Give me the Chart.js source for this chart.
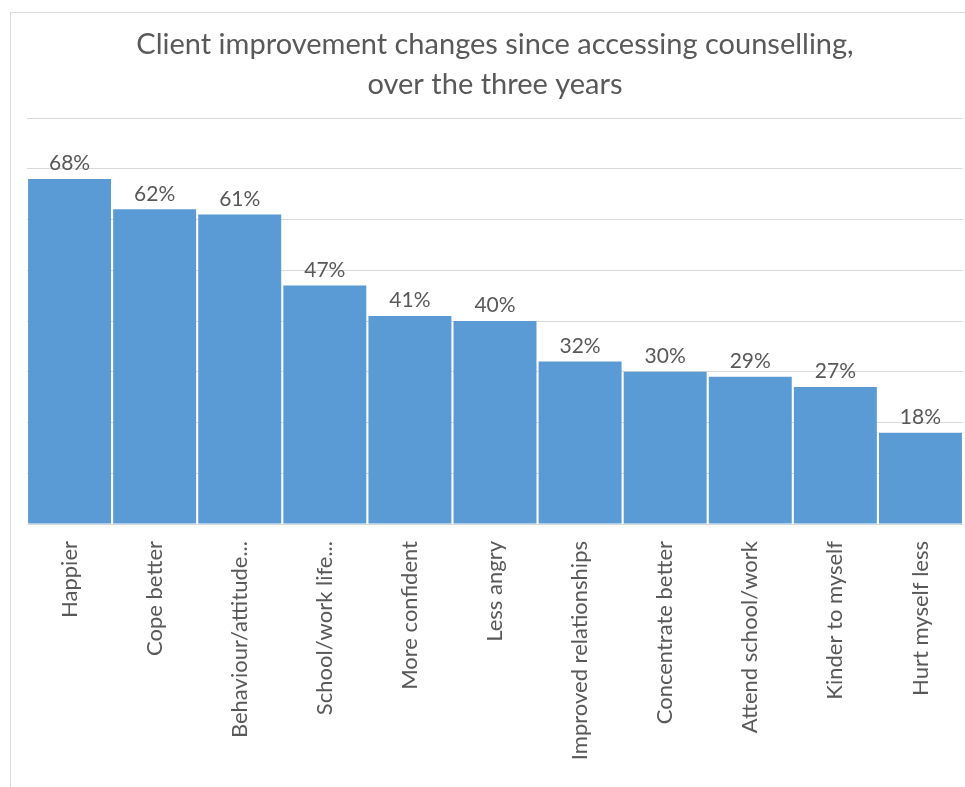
<!DOCTYPE html>
<html lang="en">
<head>
  <meta charset="UTF-8">
  <title>Client improvement changes</title>
  <script src="https://cdn.jsdelivr.net/npm/chart.js"></script>
  <style>
    html, body {
      margin: 0;
      padding: 0;
      background: #ffffff;
      overflow: hidden;
    }
    #wrap {
      position: relative;
      width: 965px;
      height: 787px;
    }
    #frame {
      position: absolute;
      left: 10px;
      top: 12px;
      width: 970px;
      height: 800px;
      border-left: 1px solid #d9d9d9;
      border-top: 1px solid #d9d9d9;
      pointer-events: none;
    }
  </style>
</head>
<body>
  <div id="wrap">
    <canvas id="myChart" width="965" height="787"></canvas>
    <div id="frame"></div>
  </div>

  <script>
    // data
    const categories = ['Happier', 'Cope better', 'Behaviour/attitude...', 'School/work life...',
      'More confident', 'Less angry', 'Improved relationships', 'Concentrate better',
      'Attend school/work', 'Kinder to myself', 'Hurt myself less'];
    const percentages = [68, 62, 61, 47, 41, 40, 32, 30, 29, 27, 18];
    const titleLines = ['Client improvement changes since accessing counselling,', 'over the three years'];

    const textColor = '#595959';

    // draws the "68%" labels over each bar
    const barLabels = {
      id: 'barLabels',
      afterDatasetsDraw(chart) {
        const c = chart.ctx;
        const meta = chart.getDatasetMeta(0);
        c.save();
        c.font = '21px Lato';
        c.fillStyle = textColor;
        c.textAlign = 'center';
        c.textBaseline = 'bottom';
        meta.data.forEach((bar, i) => {
          c.fillText(percentages[i] + '%', bar.x, bar.y - 5);
        });
        c.restore();
      }
    };

    const ctx = document.getElementById('myChart').getContext('2d');
    const myChart = new Chart(ctx, {
      type: 'bar',
      data: {
        labels: categories,
        datasets: [{
          data: percentages,
          backgroundColor: '#5b9bd5',
          borderWidth: 0,
          barPercentage: 0.975,
          categoryPercentage: 1
        }]
      },
      options: {
        responsive: false,
        animation: false,
        layout: { padding: { left: 27, right: 2, top: 0, bottom: 0 } },
        plugins: {
          legend: { display: false },
          tooltip: { enabled: false },
          title: {
            display: true,
            text: titleLines,
            color: textColor,
            font: { family: 'Lato', size: 29, weight: 'normal', lineHeight: '40px' },
            padding: { top: 25, bottom: 13 }
          }
        },
        scales: {
          x: {
            grid: { display: false, drawTicks: false },
            border: { display: false },
            ticks: {
              color: textColor,
              font: { family: 'Lato', size: 22 },
              minRotation: 90,
              maxRotation: 90,
              autoSkip: false,
              padding: 17
            },
            afterFit(scale) { scale.height = 263; }
          },
          y: {
            min: 0,
            max: 80,
            ticks: { display: false, stepSize: 10 },
            grid: { color: '#d9d9d9', drawTicks: false },
            border: { display: false },
            afterFit(scale) { scale.width = 0; }
          }
        }
      },
      plugins: [barLabels]
    });
  </script>
</body>
</html>
